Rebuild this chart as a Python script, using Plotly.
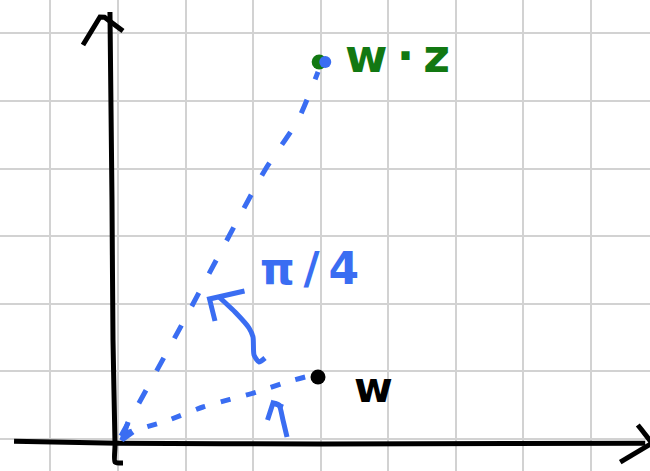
import plotly.graph_objects as go

# ---- data (grid units; origin at axes crossing) ----
x_axis_x = [-1.54, 0.0, 3.0, 7.81]
x_axis_y = [-0.04, -0.07, -0.08, -0.07]
x_head_x = [7.70, 7.78, 7.91]
x_head_y = [0.20, 0.10, -0.07]
x_head2_x = [7.91, 7.44]
x_head2_y = [-0.07, -0.35]

y_axis_x = [-0.119, -0.089, -0.074, -0.044, -0.044, 0.074]
y_axis_y = [6.319, 3.533, 1.459, -0.096, -0.348, -0.363]
y_head_x = [-0.519, -0.267, -0.20, 0.074]
y_head_y = [5.830, 6.244, 6.24, 6.037]

# dashed ray to w*z
ray_wz_x = [0.044, 1.007, 2.178, 2.667, 2.963]
ray_wz_y = [0.037, 1.800, 3.978, 4.719, 5.430]
# dashed ray to w
ray_w_x = [0.059, 0.711, 1.259, 2.059, 2.548, 2.889]
ray_w_y = [0.067, 0.259, 0.467, 0.689, 0.852, 0.941]
# little arrow head at origin
orig_head_x = [0.148, 0.059, 0.222]
orig_head_y = [0.244, -0.022, 0.096]

# rotation arc arrow (pi/4)
arc_x = [2.178, 2.089, 2.015, 2.000, 1.941, 1.748, 1.481]
arc_y = [1.193, 1.133, 1.237, 1.504, 1.637, 1.859, 2.111]
arc_head_x = [1.874, 1.356, 1.437]
arc_head_y = [2.185, 2.067, 1.741]

# small arrow under w
small_x = [2.504, 2.444, 2.385, 2.296]
small_y = [0.022, 0.274, 0.496, 0.526]
small_head_x = [2.215, 2.289, 2.296, 2.444]
small_head_y = [0.274, 0.496, 0.526, 0.467]

# points
w_pt = (2.963, 0.911)
wz_pt = (2.98, 5.578)
wz_blue = (3.07, 5.578)

# labels
lbl_wz = ("w\u2009·\u2009z", 3.33, 5.66)
lbl_w = ("w", 3.47, 0.75)
lbl_pi = ("π\u2009/\u20094", 2.08, 2.52)

BLUE = "#3a6df2"
GREEN = "#127812"
BLACK = "#000000"

fig = go.Figure()

def stroke(xs, ys, color, width=5, dash=None, smooth=True):
    line = dict(color=color, width=width, dash=dash)
    if smooth:
        line.update(shape="spline", smoothing=0.6)
    fig.add_trace(go.Scatter(x=xs, y=ys, mode="lines", line=line,
                             hoverinfo="skip", showlegend=False))

stroke(x_axis_x, x_axis_y, BLACK)
stroke(x_head_x, x_head_y, BLACK)
stroke(x_head2_x, x_head2_y, BLACK, smooth=False)
stroke(y_axis_x, y_axis_y, BLACK)
stroke(y_head_x, y_head_y, BLACK, smooth=False)

stroke(ray_wz_x, ray_wz_y, BLUE, dash="15px,22px")
stroke(ray_w_x, ray_w_y, BLUE, dash="10px,16px")
stroke(orig_head_x, orig_head_y, BLUE, smooth=False)
stroke(arc_x, arc_y, BLUE)
stroke(arc_head_x, arc_head_y, BLUE, smooth=False)
stroke(small_x, small_y, BLUE)
stroke(small_head_x, small_head_y, BLUE, smooth=False)

fig.add_trace(go.Scatter(x=[w_pt[0]], y=[w_pt[1]], mode="markers",
                         marker=dict(color=BLACK, size=15), hoverinfo="skip", showlegend=False))
fig.add_trace(go.Scatter(x=[wz_pt[0]], y=[wz_pt[1]], mode="markers",
                         marker=dict(color=GREEN, size=15), hoverinfo="skip", showlegend=False))
fig.add_trace(go.Scatter(x=[wz_blue[0]], y=[wz_blue[1]], mode="markers",
                         marker=dict(color=BLUE, size=12), hoverinfo="skip", showlegend=False))

for (txt, tx, ty), col, size in [(lbl_wz, GREEN, 46), (lbl_w, BLACK, 42), (lbl_pi, BLUE, 44)]:
    fig.add_annotation(x=tx, y=ty, text=txt, showarrow=False, xanchor="left", yanchor="middle",
                       font=dict(family="DejaVu Sans", size=size, color=col, weight="bold"))

fig.update_layout(
    width=650, height=471,
    margin=dict(l=0, r=0, t=0, b=0),
    paper_bgcolor="white", plot_bgcolor="white",
    xaxis=dict(range=[-1.748, 7.881], dtick=1, tick0=0, showticklabels=False,
               zeroline=False, showgrid=True, gridcolor="#d2d2d2", gridwidth=2, fixedrange=True),
    yaxis=dict(range=[-0.481, 6.496], dtick=1, tick0=0, showticklabels=False,
               zeroline=False, showgrid=True, gridcolor="#d2d2d2", gridwidth=2, fixedrange=True),
)

fig.write_html("out.html", config={"displayModeBar": False},
               post_script="document.body.style.margin='0';document.body.style.padding='0';document.body.style.overflow='hidden';")
